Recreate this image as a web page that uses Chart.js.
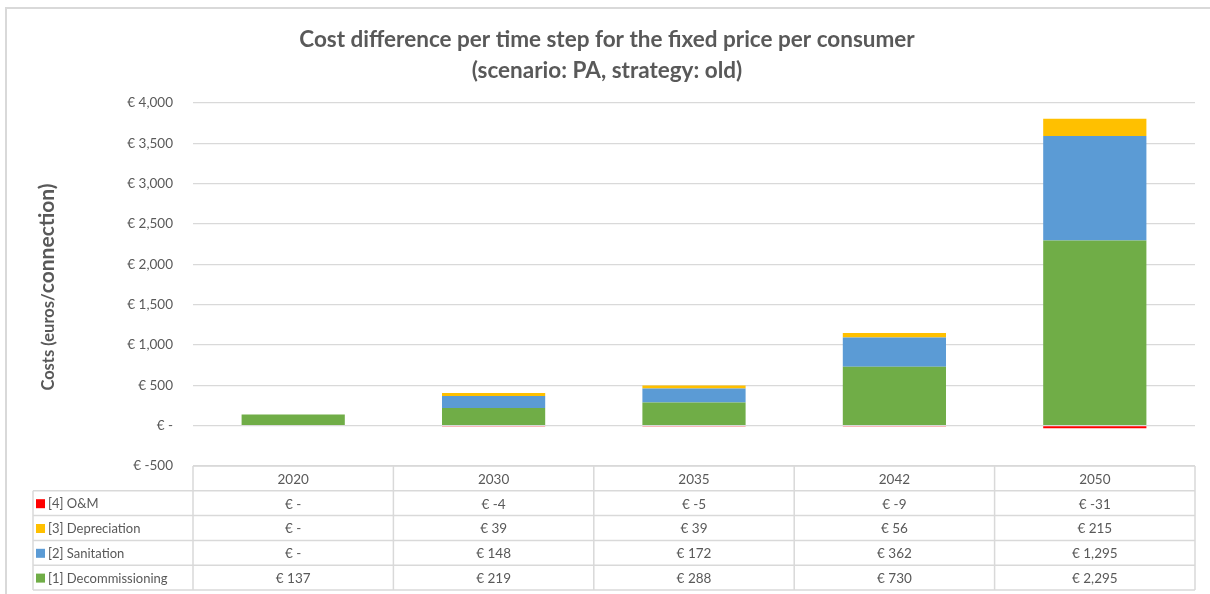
<!DOCTYPE html>
<html>
<head>
<meta charset="utf-8">
<script src="https://cdn.jsdelivr.net/npm/chart.js@4/dist/chart.umd.min.js"></script>
<style>
  body { margin: 0; background: #fff; }
  #wrap { position: relative; width: 1210px; height: 594px; }
  #frame { position: absolute; left: 5px; top: 7px; width: 1220px; height: 600px; border-left: 2px solid #d9d9d9; border-top: 2px solid #d9d9d9; box-sizing: border-box; }
  canvas { position: absolute; left: 0; top: 0; }
</style>
</head>
<body>
<div id="wrap">
  <div id="frame"></div>
  <canvas id="costChart" width="1210" height="594"></canvas>
</div>
<script>
var years = ['2020', '2030', '2035', '2042', '2050'];
var decommissioning = [137, 219, 288, 730, 2295];
var sanitation = [0, 148, 172, 362, 1295];
var depreciation = [0, 39, 39, 56, 215];
var om = [0, -4, -5, -9, -31];

var yTicks = { min: -500, max: 4000, step: 500 };

var titleLines = ['Cost difference per time step for the fixed price per consumer', '(scenario: PA, strategy: old)'];

var FONT = 'Lato, "Open Sans", sans-serif';
var GREY = '#595959';

function euro(v) {
  if (v === 0) return '€ -';
  return '€ ' + v.toLocaleString('en-US');
}

// rows of the table under the chart, top to bottom
var tableRows = [
  { label: '[4] O&M', data: om, color: '#ff0000' },
  { label: '[3] Depreciation', data: depreciation, color: '#ffc000' },
  { label: '[2] Sanitation', data: sanitation, color: '#5b9bd5' },
  { label: '[1] Decommissioning', data: decommissioning, color: '#70ad47' }
];

var extras = {
  id: 'extras',
  afterDraw: function (chart) {
    var ctx = chart.ctx;
    var area = chart.chartArea;
    var xs = chart.scales.x;
    var colW = (area.right - area.left) / years.length;
    var rowH = 24.8;
    var top = area.bottom;
    var tableLeft = 33;

    ctx.save();

    // title
    ctx.fillStyle = GREY;
    ctx.textAlign = 'center';
    ctx.textBaseline = 'middle';
    ctx.font = 'bold 22.5px ' + FONT;
    ctx.fillText(titleLines[0], 607, 40);
    ctx.fillText(titleLines[1], 607, 71);

    // y axis title, two sizes
    ctx.save();
    ctx.translate(54, 287);
    ctx.rotate(-Math.PI / 2);
    ctx.textBaseline = 'alphabetic';
    ctx.textAlign = 'left';
    var p1 = 'Costs (euros/', p2 = 'connection)';
    ctx.font = 'bold 16.5px ' + FONT;
    var w1 = ctx.measureText(p1).width;
    ctx.font = 'bold 21px ' + FONT;
    var w2 = ctx.measureText(p2).width;
    var sx = -(w1 + w2) / 2;
    ctx.font = 'bold 16.5px ' + FONT;
    ctx.fillText(p1, sx, 0);
    ctx.font = 'bold 21px ' + FONT;
    ctx.fillText(p2, sx + w1, 0);
    ctx.restore();

    // table lines
    ctx.strokeStyle = '#d9d9d9';
    ctx.lineWidth = 1.5;
    var bottom = top + rowH * (tableRows.length + 1);
    ctx.beginPath();
    ctx.moveTo(area.left, top); ctx.lineTo(area.right, top);
    for (var r = 1; r <= tableRows.length + 1; r++) {
      var yy = top + rowH * r;
      ctx.moveTo(tableLeft, yy); ctx.lineTo(area.right, yy);
    }
    for (var c = 0; c <= years.length; c++) {
      var xx = area.left + colW * c;
      ctx.moveTo(xx, top); ctx.lineTo(xx, bottom);
    }
    ctx.moveTo(tableLeft, top + rowH); ctx.lineTo(tableLeft, bottom);
    ctx.stroke();

    // header
    ctx.font = '13.5px ' + FONT;
    ctx.fillStyle = GREY;
    ctx.textAlign = 'center';
    ctx.textBaseline = 'middle';
    years.forEach(function (y, i) {
      ctx.fillText(y, xs.getPixelForValue(i), top + rowH / 2 + 1);
    });

    // rows
    tableRows.forEach(function (row, r) {
      var cy = top + rowH * (r + 1) + rowH / 2 + 1;
      ctx.fillStyle = row.color;
      ctx.fillRect(36, cy - 5, 9, 9);
      ctx.fillStyle = GREY;
      ctx.textAlign = 'left';
      ctx.font = '13px ' + FONT;
      ctx.fillText(row.label, 48, cy);
      ctx.textAlign = 'center';
      ctx.font = '13.5px ' + FONT;
      row.data.forEach(function (v, i) {
        ctx.fillText(euro(v), xs.getPixelForValue(i), cy);
      });
    });

    ctx.restore();
  }
};

var ctx = document.getElementById('costChart').getContext('2d');
var costChart = new Chart(ctx, {
  type: 'bar',
  data: {
    labels: years,
    datasets: [
      { label: '[1] Decommissioning', data: decommissioning, backgroundColor: '#70ad47' },
      { label: '[2] Sanitation', data: sanitation, backgroundColor: '#5b9bd5' },
      { label: '[3] Depreciation', data: depreciation, backgroundColor: '#ffc000' },
      { label: '[4] O&M', data: om, backgroundColor: '#ff0000' }
    ]
  },
  options: {
    responsive: false,
    animation: false,
    layout: { padding: { top: 103, bottom: 128, left: 0, right: 15 } },
    datasets: {
      bar: { categoryPercentage: 1, barPercentage: 0.515, borderWidth: 0 }
    },
    plugins: {
      legend: { display: false },
      title: { display: false },
      tooltip: { enabled: false }
    },
    scales: {
      x: {
        stacked: true,
        display: false
      },
      y: {
        stacked: true,
        min: yTicks.min,
        max: yTicks.max,
        afterFit: function (scale) { scale.width = 193; },
        border: { display: false },
        grid: { color: '#d9d9d9', lineWidth: 1.3, drawTicks: false },
        ticks: {
          stepSize: yTicks.step,
          padding: 20,
          color: GREY,
          font: { family: FONT, size: 13.5 },
          callback: function (v) { return euro(v); }
        }
      }
    }
  },
  plugins: [extras]
});
</script>
</body>
</html>
